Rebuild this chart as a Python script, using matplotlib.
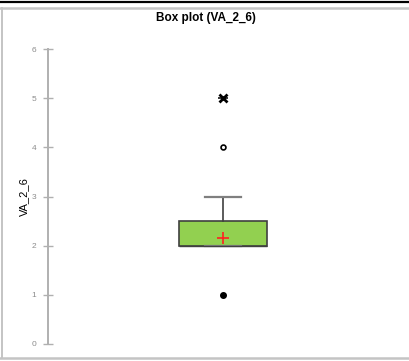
import matplotlib
matplotlib.use("Agg")
from matplotlib import pyplot as plt
from matplotlib.lines import Line2D

# summary values of VA_2_6
variable = "VA_2_6"
q1 = [2.0]
median = [2.0]
q3 = [2.5]
whisker_low = [2.0]
whisker_high = [3.0]
mean = [2.15]
minimum = [1.0]
outliers = [4.0]
maximum = [5.0]
yticks = [0, 1, 2, 3, 4, 5, 6]

W, H = 409, 361
fig = plt.figure(figsize=(W / 100, H / 100), dpi=100)
plt.rcParams["font.family"] = ["Liberation Sans", "DejaVu Sans"]

# frame lines around the picture
def px(x, y):
    return x / W, 1 - y / H

for (x0, y0), (x1, y1), c, lw in [
    ((0, 2), (W, 2), "black", 1.6),
    ((0, 7.5), (W, 7.5), "#c4c4c4", 1.8),
    ((2, 7.5), (2, 357.5), "#c4c4c4", 1.4),
    ((0, 357.5), (W, 357.5), "#c4c4c4", 1.8),
]:
    a, b = px(x0, y0), px(x1, y1)
    fig.add_artist(Line2D([a[0], b[0]], [a[1], b[1]], color=c, lw=lw))

ax = fig.add_axes([48 / W, (H - 344) / H, 350 / W, 295 / H])

stats = [{
    "med": median[0], "q1": q1[0], "q3": q3[0],
    "whislo": whisker_low[0], "whishi": whisker_high[0],
    "mean": mean[0], "fliers": [],
}]
ax.bxp(stats, positions=[1], widths=0.5, patch_artist=True, showmeans=True,
       boxprops=dict(facecolor="#92d050", edgecolor="#404040", lw=1.2),
       medianprops=dict(color="#404040", lw=1.0),
       whiskerprops=dict(color="#404040", lw=1.2),
       capprops=dict(color="#7f7f7f", lw=1.6),
       meanprops=dict(marker="+", markeredgecolor="#ff2020", markersize=9, mew=1.2),
       capwidths=0.21)

ax.plot([1] * len(minimum), minimum, "o", color="black", ms=4, clip_on=False)
ax.plot([1] * len(outliers), outliers, "o", mfc="white", mec="black", ms=3.5, mew=1.2, clip_on=False)
ax.plot([1] * len(maximum), maximum, "x", color="black", ms=5.5, mew=2.0, clip_on=False)
ax.plot([1] * len(maximum), maximum, "_", color="black", ms=6.5, mew=1.1, clip_on=False)

ax.set_xlim(0, 2)
ax.set_ylim(0, 6)
ax.set_xticks([])
ax.set_yticks(yticks)
for s in ["top", "right", "bottom"]:
    ax.spines[s].set_visible(False)
ax.spines["left"].set_color("#b0b0b0")
ax.spines["left"].set_linewidth(1.4)
ax.tick_params(axis="y", direction="inout", length=7, width=1, color="#b0b0b0",
               labelsize=6, labelcolor="#8c8c8c", pad=5)

ax.set_ylabel(variable, fontsize=8, labelpad=2)
fig.text(206 / W, 1 - 18 / H, "Box plot (VA_2_6)", ha="center", va="center",
         fontsize=8.5, fontweight="bold")

fig.savefig("out.png", dpi=100)
